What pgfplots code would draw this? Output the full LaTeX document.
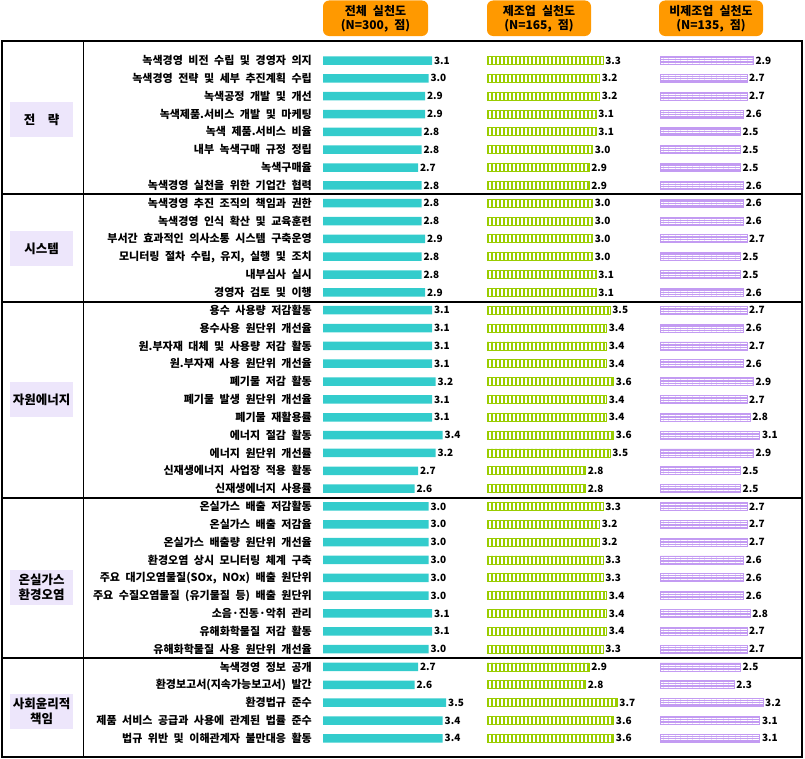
\documentclass[border=0pt]{standalone}
\usepackage{pgfplots}
\pgfplotsset{compat=1.18}
\usepackage{pgfplotstable}
\usepackage{fontspec}
\setmainfont{Noto Sans CJK KR}[WordSpace=2.2]
\usetikzlibrary{patterns.meta}
\definecolor{teal1}{HTML}{33CCCC}
\definecolor{grn}{HTML}{99CC00}
\definecolor{lav}{HTML}{C39BF2}
\definecolor{orng}{HTML}{FF9900}
\definecolor{catbg}{HTML}{EDE6FB}

\pgfplotstableread{
row tot man non
0 3.1 3.3 2.9
1 3.0 3.2 2.7
2 2.9 3.2 2.7
3 2.9 3.1 2.6
4 2.8 3.1 2.5
5 2.8 3.0 2.5
6 2.7 2.9 2.5
7 2.8 2.9 2.6
8 2.8 3.0 2.6
9 2.8 3.0 2.6
10 2.9 3.0 2.7
11 2.8 3.0 2.5
12 2.8 3.1 2.5
13 2.9 3.1 2.6
14 3.1 3.5 2.7
15 3.1 3.4 2.6
16 3.1 3.4 2.7
17 3.1 3.4 2.6
18 3.2 3.6 2.9
19 3.1 3.4 2.7
20 3.1 3.4 2.8
21 3.4 3.6 3.1
22 3.2 3.5 2.9
23 2.7 2.8 2.5
24 2.6 2.8 2.5
25 3.0 3.3 2.7
26 3.0 3.2 2.7
27 3.0 3.2 2.7
28 3.0 3.3 2.6
29 3.0 3.3 2.6
30 3.0 3.4 2.6
31 3.1 3.4 2.8
32 3.1 3.4 2.7
33 3.0 3.3 2.7
34 2.7 2.9 2.5
35 2.6 2.8 2.3
36 3.5 3.7 3.2
37 3.4 3.6 3.1
38 3.4 3.6 3.1
}\datatable

\pgfplotsset{
 panel/.style={
  scale only axis, height=713.5bp, ymin=-1, ymax=39, y dir=reverse,
  xmin=0, xmax=4, enlargelimits=false, clip=false,
  axis lines=left, axis line style={draw=none,-},
  xtick=\empty, ytick=\empty, major tick length=0pt,
  ytick style={draw=none}, xtick style={draw=none},
  xbar, bar width=8.5bp,
  point meta=x,
  nodes near coords={\pgfmathprintnumber[fixed,fixed zerofill,precision=1,assume math mode=true]{\pgfplotspointmeta}},
  nodes near coords style={font=\fontsize{10bp}{10bp}\selectfont\bfseries, inner sep=1.8bp, anchor=west},
 }
}

\begin{document}
\begin{tikzpicture}
\path[use as bounding box] (0,0) rectangle (805bp,-759bp);

% header boxes
\foreach \xa/\xb/\ta/\tb in {323/428/전체 실천도/{(N=300, 점)}, 487/591/제조업 실천도/{(N=165, 점)}, 659/763/비제조업 실천도/{(N=135, 점)}}{
  \fill[orng, rounded corners=6bp] (\xa bp,-0.5bp) rectangle (\xb bp,-36bp);
  \node[align=center, font=\fontsize{12bp}{14bp}\selectfont\bfseries, inner sep=0pt] at ({(\xa+\xb)/2*1bp},-18.5bp) {\ta\\\tb};
}

% table frame
\draw[line width=1.2bp] (2bp,-41bp) rectangle (802bp,-757bp);
\draw[line width=1.2bp] (83.3bp,-41bp) -- (83.3bp,-757bp);
\foreach \yy in {194,302,498,658}{
  \draw[line width=1.2bp] (2bp,-\yy bp) -- (802bp,-\yy bp);
}

% category boxes
\foreach \yc/\txt in {119.5/{전\hspace{1em}략}, 248.5/시스템, 399.5/자원에너지, 587.5/{온실가스\\환경오염}, 711/{사회윤리적\\책임}}{
  \fill[catbg] (10bp,{-\yc*1bp+17.5bp}) rectangle (73bp,{-\yc*1bp-17.5bp});
  \node[align=center, font=\fontsize{12.5bp}{15bp}\selectfont\bfseries, inner sep=0pt] at (41.5bp,-\yc bp) {\txt};
}

% panel 1
\begin{axis}[panel, at={(323bp,-42.66bp)}, anchor=north west, width=140.8bp,
  ytick={0,...,38},
  yticklabel style={anchor=east, inner sep=0pt, xshift=-11bp, font=\fontsize{11bp}{11bp}\selectfont\bfseries},
  yticklabels={
  녹색경영 비전 수립 및 경영자 의지,
  녹색경영 전략 및 세부 추진계획 수립,
  녹색공정 개발 및 개선,
  녹색제품.서비스 개발 및 마케팅,
  녹색 제품.서비스 비율,
  내부 녹색구매 규정 정립,
  녹색구매율,
  녹색경영 실천을 위한 기업간 협력,
  녹색경영 추진 조직의 책임과 권한,
  녹색경영 인식 확산 및 교육훈련,
  부서간 효과적인 의사소통 시스템 구축운영,
  {모니터링 절차 수립, 유지, 실행 및 조치},
  내부심사 실시,
  경영자 검토 및 이행,
  용수 사용량 저감활동,
  용수사용 원단위 개선율,
  원.부자재 대체 및 사용량 저감 활동,
  원.부자재 사용 원단위 개선율,
  폐기물 저감 활동,
  폐기물 발생 원단위 개선율,
  폐기물 재활용률,
  에너지 절감 활동,
  에너지 원단위 개선률,
  신재생에너지 사업장 적용 활동,
  신재생에너지 사용률,
  온실가스 배출 저감활동,
  온실가스 배출 저감율,
  온실가스 배출량 원단위 개선율,
  환경오염 상시 모니터링 체계 구축,
  {주요 대기오염물질(SOx, NOx) 배출 원단위},
  주요 수질오염물질 (유기물질 등) 배출 원단위,
  소음·진동·악취 관리,
  유해화학물질 저감 활동,
  유해화학물질 사용 원단위 개선율,
  녹색경영 정보 공개,
  환경보고서(지속가능보고서) 발간,
  환경법규 준수,
  제품 서비스 공급과 사용에 관계된 법률 준수,
  법규 위반 및 이해관계자 불만대응 활동}]
\addplot[fill=teal1, draw=none] table[x=tot, y=row]{\datatable};
\end{axis}

% panel 2
\begin{axis}[panel, at={(487bp,-42.66bp)}, anchor=north west, width=140.8bp, bar width=8bp]
\addplot[draw=grn, line width=0.8bp, fill=white, pattern={Lines[angle=90,distance=4bp,line width=2.4bp]}, pattern color=grn] table[x=man, y=row]{\datatable};
\end{axis}

% panel 3
\begin{axis}[panel, at={(660bp,-42.66bp)}, anchor=north west, width=128.8bp, bar width=8bp]
\addplot[draw=lav, line width=0.8bp, fill=lav, postaction={pattern={Lines[angle=0,distance=2.4bp,line width=0.8bp]}, pattern color=white}] table[x=non, y=row]{\datatable};
\end{axis}
\end{tikzpicture}
\end{document}
